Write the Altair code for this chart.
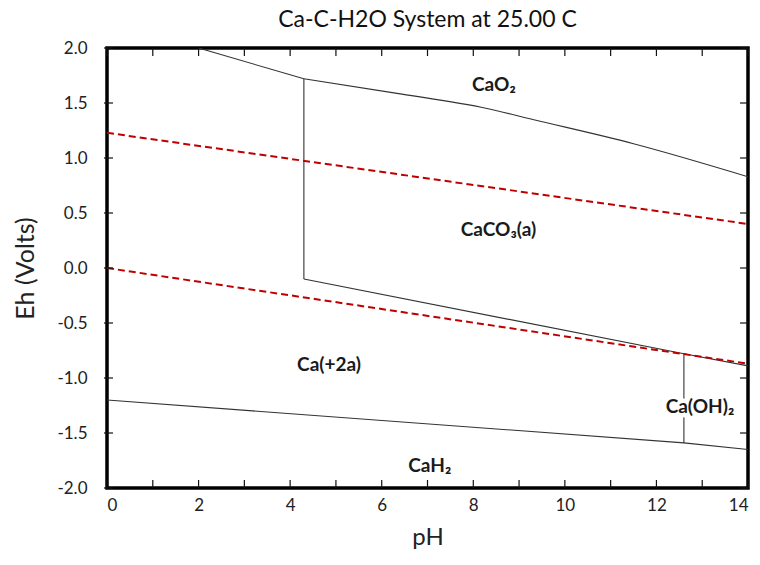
import altair as alt
import pandas as pd

# Phase boundaries (pH, Eh) for the Ca-C-H2O system
upper_a_ph = [2.0, 4.3]
upper_a_eh = [2.0, 1.72]

upper_b_ph = [4.3, 6.3, 8.3, 9.3, 11.5, 14.0]
upper_b_eh = [1.72, 1.59, 1.45, 1.35, 1.13, 0.83]

vert1_ph = [4.3, 4.3]
vert1_eh = [1.72, -0.10]

lower_ph = [4.3, 12.6, 14.0]
lower_eh = [-0.10, -0.78, -0.89]

vert2_ph = [12.6, 12.6]
vert2_eh = [-0.78, -1.59]

hydride_ph = [0.0, 12.6, 14.0]
hydride_eh = [-1.20, -1.59, -1.65]

# Water stability limits
o2_ph = [0.0, 14.0]
o2_eh = [1.229, 0.40]
h2_ph = [0.0, 14.0]
h2_eh = [0.0, -0.87]

# Field labels
label_text = ["CaO₂", "CaCO₃(a)", "Ca(+2a)", "Ca(OH)₂", "CaH₂"]
label_ph = [8.45, 8.55, 4.85, 12.95, 7.05]
label_eh = [1.66, 0.35, -0.88, -1.26, -1.80]

x_ticks = list(range(0, 15))
x_labels = [0, 2, 4, 6, 8, 10, 12, 14]
y_ticks = [-2.0, -1.5, -1.0, -0.5, 0.0, 0.5, 1.0, 1.5, 2.0]

W, H = 641, 440
FONT = "Lato"
INK = "#222222"


def seg(name, ph, eh):
    return pd.DataFrame({"seg": name, "i": range(len(ph)), "pH": ph, "Eh": eh})


bounds = pd.concat([
    seg("upper_a", upper_a_ph, upper_a_eh),
    seg("v1", vert1_ph, vert1_eh),
    seg("lower", lower_ph, lower_eh),
    seg("v2", vert2_ph, vert2_eh),
    seg("hydride", hydride_ph, hydride_eh),
])
curve = seg("upper_b", upper_b_ph, upper_b_eh)
water = pd.concat([seg("o2", o2_ph, o2_eh), seg("h2", h2_ph, h2_eh)])
labels = pd.DataFrame({"t": label_text, "pH": label_ph, "Eh": label_eh})

xs = alt.Scale(domain=[0, 14], nice=False)
ys = alt.Scale(domain=[-2, 2], nice=False)

x_enc = alt.X("pH:Q", scale=xs, axis=alt.Axis(
    values=x_labels, title="pH", ticks=False, tickSize=0, domain=False, grid=False,
    labelFontSize=17, labelPadding=9, labelColor=INK, labelFont=FONT,
    titleFontSize=24, titleFont=FONT, titleFontWeight="normal", titleColor=INK,
    titlePadding=12))
y_enc = alt.Y("Eh:Q", scale=ys, axis=alt.Axis(
    values=y_ticks, title="Eh (Volts)", ticks=False, tickSize=0, domain=False, grid=False,
    labelExpr="(datum.value < 0 ? '-' : '') + format(abs(datum.value), '.1f')",
    labelFontSize=17, labelPadding=20, labelColor=INK, labelFont=FONT,
    titleFontSize=25, titleFont=FONT, titleFontWeight="normal", titleColor=INK,
    titlePadding=18))

lines = alt.Chart(bounds).mark_line(color="#333333", strokeWidth=1.1, clip=True).encode(
    x=x_enc, y=y_enc, detail="seg:N", order="i:Q")

smooth = alt.Chart(curve).mark_line(color="#333333", strokeWidth=1.1, clip=True,
                                    interpolate="monotone").encode(
    x="pH:Q", y="Eh:Q", order="i:Q")

dashed = alt.Chart(water).mark_line(color="#c00000", strokeWidth=2, strokeDash=[7, 4], clip=True).encode(
    x="pH:Q", y="Eh:Q", detail="seg:N", order="i:Q")

# white halo so field labels sit on a clear background over boundary lines
halo = alt.Chart(labels).mark_text(font=FONT, fontSize=19, fontWeight="bold", color="white",
                                   stroke="white", strokeWidth=9, strokeJoin="round").encode(
    x="pH:Q", y="Eh:Q", text="t:N")
text = alt.Chart(labels).mark_text(font=FONT, fontSize=19, fontWeight="bold", color="#1a1a1a").encode(
    x="pH:Q", y="Eh:Q", text="t:N")

xt = pd.DataFrame({"pH": x_ticks})
yt = pd.DataFrame({"Eh": y_ticks})
tick_style = dict(color="#111111", strokeWidth=1.2)
xtick_bot = alt.Chart(xt).mark_rule(**tick_style).encode(x="pH:Q", y=alt.value(H), y2=alt.value(H - 8))
xtick_top = alt.Chart(xt).mark_rule(**tick_style).encode(x="pH:Q", y=alt.value(0), y2=alt.value(8))
ytick_l = alt.Chart(yt).mark_rule(**tick_style).encode(y="Eh:Q", x=alt.value(-3), x2=alt.value(6))
ytick_r = alt.Chart(yt).mark_rule(**tick_style).encode(y="Eh:Q", x=alt.value(W), x2=alt.value(W - 8))

chart = alt.layer(lines, smooth, dashed, halo, text, xtick_bot, xtick_top, ytick_l, ytick_r).properties(
    width=W, height=H,
    background="white",
    title=alt.TitleParams("Ca-C-H2O System at 25.00 C", fontSize=23, font=FONT,
                          fontWeight="normal", color="#111111", offset=7, anchor="middle"),
    autosize=alt.AutoSizeParams(type="none"),
    padding={"left": 107, "top": 48, "right": 12, "bottom": 77},
).configure_view(stroke="black", strokeWidth=3.5)

chart.save("out.html", embed_options={"renderer": "svg", "actions": False})
